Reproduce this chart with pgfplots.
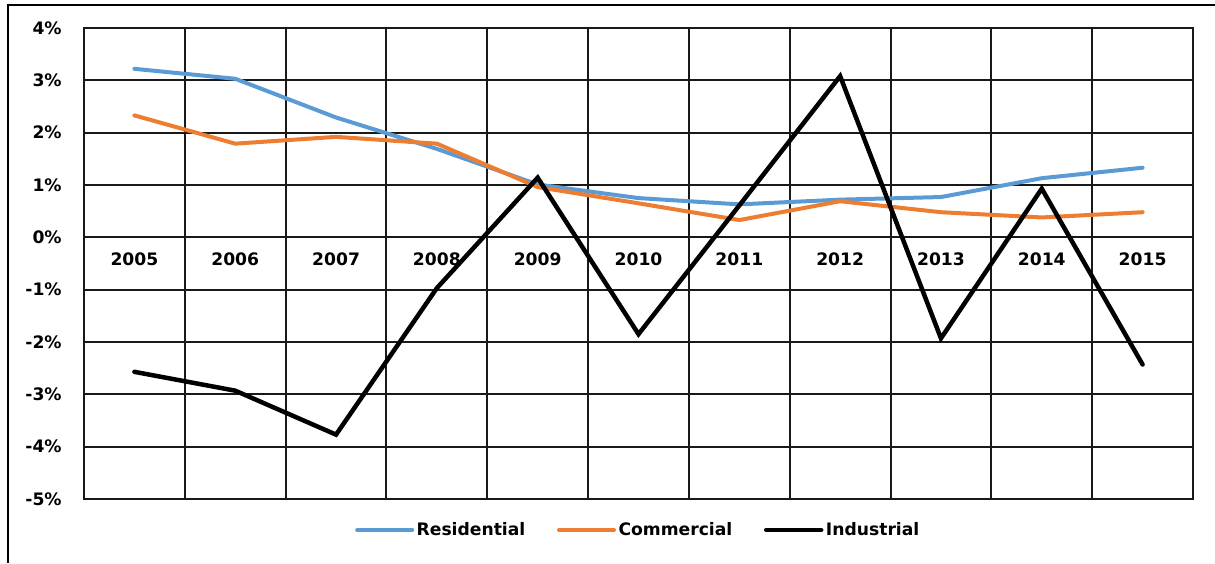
\documentclass[border=0pt]{standalone}
\usepackage{fontspec}
\setmainfont{DejaVu Sans}
\usepackage{pgfplots}
\pgfplotsset{compat=1.18}
\definecolor{resblue}{HTML}{5B9BD5}
\definecolor{comorange}{HTML}{ED7D31}
\begin{document}
\begin{tikzpicture}[x=1pt,y=1pt]
\useasboundingbox (0,0) rectangle (729,337.8);
\draw[line width=1.2pt] (4.8,0) -- (4.8,334.8) -- (729,334.8);
\begin{axis}[
  at={(50.4pt,38.4pt)}, anchor=south west,
  scale only axis, width=665.4pt, height=282.6pt,
  xmin=-0.5, xmax=10.5, ymin=-5, ymax=4,
  xtick={0,1,2,3,4,5,6,7,8,9,10},
  xticklabels={2005,2006,2007,2008,2009,2010,2011,2012,2013,2014,2015},
  minor xtick={0.5,1.5,2.5,3.5,4.5,5.5,6.5,7.5,8.5,9.5},
  xminorgrids, xmajorgrids=false,
  ytick={-5,-4,-3,-2,-1,0,1,2,3,4},
  yticklabels={-5\%,-4\%,-3\%,-2\%,-1\%,0\%,1\%,2\%,3\%,4\%},
  ymajorgrids,
  major tick length=0pt, minor tick length=0pt,
  grid style={black!90, line width=1.2pt},
  minor grid style={black!90, line width=1.2pt},
  axis line style={black!90, line width=1.2pt},
  tick label style={font=\fontsize{10.3}{12}\selectfont\bfseries},
  yticklabel style={anchor=east, inner sep=0pt, xshift=-13.2pt},
  xticklabel style={anchor=center, inner sep=0pt, yshift=144pt},
  legend style={at={(0.5,0)}, anchor=center, yshift=-18.6pt, draw=none, fill=none,
    font=\fontsize{10.3}{12}\selectfont\bfseries, inner sep=0pt,
    nodes={inner sep=1.5pt},
    /tikz/every even column/.append style={column sep=17.5pt}},
  legend columns=3,
  legend image code/.code={\draw[#1, line cap=round] (0pt,0pt) -- (33pt,0pt);},
]
\addplot[resblue, line width=2.4pt, line cap=round, line join=round] coordinates {
 (0,3.22) (1,3.03) (2,2.29) (3,1.69) (4,1.01) (5,0.75) (6,0.63) (7,0.72) (8,0.77) (9,1.13) (10,1.33)};
\addlegendentry{Residential}
\addplot[comorange, line width=2.4pt, line cap=round, line join=round] coordinates {
 (0,2.33) (1,1.79) (2,1.92) (3,1.79) (4,0.96) (5,0.65) (6,0.33) (7,0.69) (8,0.48) (9,0.38) (10,0.48)};
\addlegendentry{Commercial}
\addplot[black, line width=2.7pt, line cap=round, line join=miter] coordinates {
 (0,-2.57) (1,-2.93) (2,-3.77) (3,-0.97) (4,1.14) (5,-1.85) (6,0.61) (7,3.08) (8,-1.93) (9,0.93) (10,-2.43)};
\addlegendentry{Industrial}
\end{axis}
\end{tikzpicture}
\end{document}
